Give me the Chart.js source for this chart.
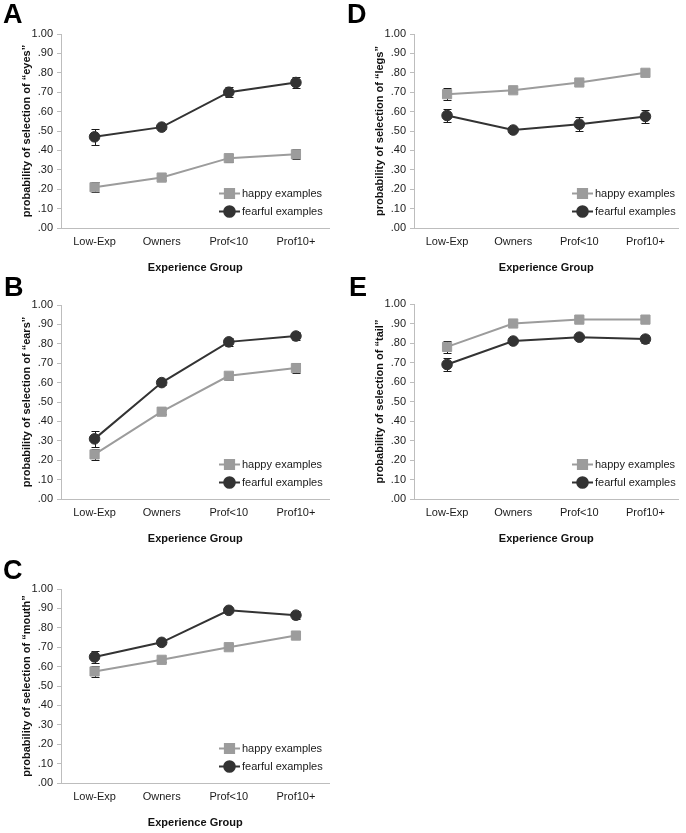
<!DOCTYPE html>
<html>
<head>
<meta charset="utf-8">
<script src="https://cdn.jsdelivr.net/npm/chart.js@4.4.1/dist/chart.umd.min.js"></script>
<style>
  html, body { margin: 0; padding: 0; background: #fff; overflow: hidden; }
  body { position: relative; width: 686px; height: 833px; }
  canvas { position: absolute; }
  .letter { position: absolute; font: bold 27px 'Liberation Sans', Arial, sans-serif; line-height: 1; color: #000; }
</style>
</head>
<body>
<script>
'use strict';

var categories = ['Low-Exp', 'Owners', 'Prof<10', 'Prof10+'];
var yTickLabels = ['.00', '.10', '.20', '.30', '.40', '.50', '.60', '.70', '.80', '.90', '1.00'];
var seriesNames = ['happy examples', 'fearful examples'];
var xTitle = 'Experience Group';

// A - eyes
var eyesHappy = [0.21, 0.26, 0.36, 0.38];
var eyesHappyErr = [0.025, 0.01, 0.02, 0.025];
var eyesFearful = [0.47, 0.52, 0.70, 0.75];
var eyesFearfulErr = [0.04, 0.01, 0.025, 0.03];

// B - ears
var earsHappy = [0.23, 0.45, 0.635, 0.675];
var earsHappyErr = [0.03, 0.01, 0.02, 0.025];
var earsFearful = [0.31, 0.60, 0.81, 0.84];
var earsFearfulErr = [0.04, 0.01, 0.02, 0.02];

// C - mouth
var mouthHappy = [0.575, 0.635, 0.70, 0.76];
var mouthHappyErr = [0.03, 0.01, 0.015, 0.02];
var mouthFearful = [0.65, 0.725, 0.89, 0.865];
var mouthFearfulErr = [0.03, 0.01, 0.01, 0.02];

// D - legs
var legsHappy = [0.69, 0.71, 0.75, 0.80];
var legsHappyErr = [0.03, 0.01, 0.015, 0.015];
var legsFearful = [0.58, 0.505, 0.535, 0.575];
var legsFearfulErr = [0.035, 0.01, 0.035, 0.035];

// E - tail
var tailHappy = [0.78, 0.90, 0.92, 0.92];
var tailHappyErr = [0.03, 0.01, 0.01, 0.01];
var tailFearful = [0.69, 0.81, 0.83, 0.82];
var tailFearfulErr = [0.035, 0.01, 0.01, 0.02];

var FONT = "'Liberation Sans', Arial, sans-serif";
var FONT_SIZE = 11;
var happyColor = '#9c9c9c';
var fearfulColor = '#333333';
var axisColor = '#bdbdbd';

// plot area corners in page pixels
var panels = [
    { letter: 'A', part: 'eyes', happy: eyesHappy, happyErr: eyesHappyErr, fearful: eyesFearful, fearfulErr: eyesFearfulErr,
      L: 61, R: 335, T: 34, B: 228, lx: 3, ly: 1 },
    { letter: 'B', part: 'ears', happy: earsHappy, happyErr: earsHappyErr, fearful: earsFearful, fearfulErr: earsFearfulErr,
      L: 61, R: 335, T: 305, B: 499, lx: 4, ly: 274 },
    { letter: 'C', part: 'mouth', happy: mouthHappy, happyErr: mouthHappyErr, fearful: mouthFearful, fearfulErr: mouthFearfulErr,
      L: 61, R: 335, T: 589, B: 783, lx: 3, ly: 557 },
    { letter: 'D', part: 'legs', happy: legsHappy, happyErr: legsHappyErr, fearful: legsFearful, fearfulErr: legsFearfulErr,
      L: 414, R: 684, T: 34, B: 228, lx: 347, ly: 1 },
    { letter: 'E', part: 'tail', happy: tailHappy, happyErr: tailHappyErr, fearful: tailFearful, fearfulErr: tailFearfulErr,
      L: 414, R: 684, T: 304, B: 499, lx: 349, ly: 274 }
];

var Y_AXIS_W = 61;
var X_AXIS_H = 52;
var PAD_TOP = 34;
var PAD_RIGHT = 2;

var errorBars = {
    id: 'errorBars',
    beforeDatasetsDraw: function (chart) {
        var ctx = chart.ctx;
        var yScale = chart.scales.y;
        chart.data.datasets.forEach(function (ds, i) {
            var meta = chart.getDatasetMeta(i);
            ctx.save();
            ctx.strokeStyle = '#1a1a1a';
            ctx.lineWidth = 1;
            meta.data.forEach(function (pt, j) {
                var e = ds.errors[j];
                var x = Math.round(pt.x) + 0.5;
                var top = Math.round(yScale.getPixelForValue(ds.data[j] + e)) + 0.5;
                var bot = Math.round(yScale.getPixelForValue(ds.data[j] - e)) + 0.5;
                ctx.beginPath();
                ctx.moveTo(x, top);
                ctx.lineTo(x, bot);
                ctx.moveTo(x - 4, top);
                ctx.lineTo(x + 4, top);
                ctx.moveTo(x - 4, bot);
                ctx.lineTo(x + 4, bot);
                ctx.stroke();
            });
            ctx.restore();
        });
    }
};

var insideLegend = {
    id: 'insideLegend',
    afterDraw: function (chart) {
        var ctx = chart.ctx;
        var area = chart.chartArea;
        chart.data.datasets.forEach(function (ds, i) {
            var x0 = area.left + 158;
            var y = Math.round(area.bottom - 35 + i * 18) + 0.5;
            ctx.save();
            ctx.strokeStyle = ds.borderColor;
            ctx.lineWidth = 2;
            ctx.beginPath();
            ctx.moveTo(x0, y);
            ctx.lineTo(x0 + 21, y);
            ctx.stroke();
            ctx.fillStyle = ds.pointBackgroundColor;
            ctx.strokeStyle = ds.pointBorderColor;
            Chart.helpers.drawPoint(ctx, {
                pointStyle: ds.pointStyle,
                radius: ds.pointRadius,
                rotation: 0,
                borderWidth: 1
            }, x0 + 10.5, y);
            ctx.fillStyle = '#1a1a1a';
            ctx.font = FONT_SIZE + 'px ' + FONT;
            ctx.textBaseline = 'middle';
            ctx.textAlign = 'left';
            ctx.fillText(ds.label, x0 + 23, y);
            ctx.restore();
        });
    }
};

function makePanel(p) {
    var canvas = document.createElement('canvas');
    var w = p.R - p.L + Y_AXIS_W + PAD_RIGHT;
    var h = p.B - p.T + PAD_TOP + X_AXIS_H;
    canvas.width = w;
    canvas.height = h;
    canvas.style.left = (p.L - Y_AXIS_W) + 'px';
    canvas.style.top = (p.T - PAD_TOP) + 'px';
    canvas.style.width = w + 'px';
    canvas.style.height = h + 'px';
    document.body.appendChild(canvas);

    var letter = document.createElement('div');
    letter.className = 'letter';
    letter.textContent = p.letter;
    letter.style.left = p.lx + 'px';
    letter.style.top = p.ly + 'px';
    document.body.appendChild(letter);

    new Chart(canvas.getContext('2d'), {
        type: 'line',
        data: {
            labels: categories,
            datasets: [{
                label: seriesNames[0],
                data: p.happy,
                errors: p.happyErr,
                borderColor: happyColor,
                borderWidth: 2,
                pointStyle: 'rect',
                pointRadius: 6.5,
                pointBackgroundColor: happyColor,
                pointBorderColor: happyColor,
                pointBorderWidth: 1
            }, {
                label: seriesNames[1],
                data: p.fearful,
                errors: p.fearfulErr,
                borderColor: fearfulColor,
                borderWidth: 2,
                pointStyle: 'circle',
                pointRadius: 5.3,
                pointBackgroundColor: fearfulColor,
                pointBorderColor: fearfulColor,
                pointBorderWidth: 1
            }]
        },
        options: {
            responsive: false,
            animation: false,
            layout: { padding: { top: PAD_TOP, right: PAD_RIGHT, left: 0, bottom: 0 } },
            plugins: {
                legend: { display: false },
                tooltip: { enabled: false }
            },
            scales: {
                x: {
                    offset: true,
                    afterFit: function (s) { s.height = X_AXIS_H; },
                    grid: { display: false, drawTicks: false },
                    border: { color: axisColor, width: 1 },
                    ticks: { padding: 7.5, color: '#1a1a1a', font: { family: FONT, size: FONT_SIZE }, maxRotation: 0 },
                    title: {
                        display: true,
                        text: xTitle,
                        color: '#111',
                        font: { family: FONT, size: FONT_SIZE, weight: 'bold' },
                        padding: { top: 0, bottom: 5.5 }
                    }
                },
                y: {
                    min: 0,
                    max: 1,
                    afterFit: function (s) { s.width = Y_AXIS_W; },
                    grid: { drawOnChartArea: false, drawTicks: true, tickLength: 4, color: axisColor },
                    border: { color: axisColor, width: 1 },
                    ticks: {
                        stepSize: 0.1,
                        padding: 4,
                        color: '#1a1a1a',
                        font: { family: FONT, size: FONT_SIZE },
                        callback: function (v, i) { return yTickLabels[i]; }
                    },
                    title: {
                        display: true,
                        text: 'probability of selection of \u201c' + p.part + '\u201d',
                        color: '#111',
                        font: { family: FONT, size: FONT_SIZE, weight: 'bold' },
                        padding: { top: 20.5, bottom: 0 }
                    }
                }
            }
        },
        plugins: [errorBars, insideLegend]
    });
}

for (var i = 0; i < panels.length; i++) {
    makePanel(panels[i]);
}
</script>
</body>
</html>
